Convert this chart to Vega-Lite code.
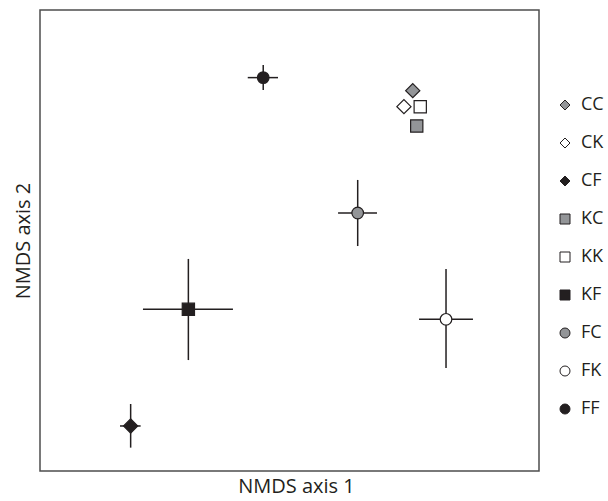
{
  "$schema": "https://vega.github.io/schema/vega-lite/v6.json",
  "width": 499,
  "height": 461,
  "autosize": "none",
  "padding": {"left": 40, "top": 10, "right": 69, "bottom": 30},
  "background": "white",
  "config": {
    "view": {"stroke": "#4d4d4d", "strokeWidth": 1.5},
    "font": "Open Sans",
    "legend": {
      "title": null, "padding": 0,
      "labelFont": "Open Sans", "labelFontSize": 18, "labelColor": "#231f20",
      "symbolSize": 100, "symbolStrokeColor": "#231f20", "symbolStrokeWidth": 1, "symbolOpacity": 1,
      "rowPadding": 20, "labelOffset": 7
    }
  },
  "data": {
    "values": [
      {"group": "CC", "x": 0.741, "y": 0.975, "xlo": null, "xhi": null, "ylo": null, "yhi": null},
      {"group": "CK", "x": 0.688, "y": 0.871, "xlo": null, "xhi": null, "ylo": null, "yhi": null},
      {"group": "CF", "x": -0.955, "y": -1.207, "xlo": -1.019, "xhi": -0.895, "ylo": -1.348, "yhi": -1.064},
      {"group": "KC", "x": 0.765, "y": 0.745, "xlo": null, "xhi": null, "ylo": null, "yhi": null},
      {"group": "KK", "x": 0.786, "y": 0.871, "xlo": null, "xhi": null, "ylo": null, "yhi": null},
      {"group": "KF", "x": -0.608, "y": -0.448, "xlo": -0.881, "xhi": -0.34, "ylo": -0.778, "yhi": -0.12},
      {"group": "FC", "x": 0.41, "y": 0.179, "xlo": 0.292, "xhi": 0.526, "ylo": -0.036, "yhi": 0.394},
      {"group": "FK", "x": 0.941, "y": -0.513, "xlo": 0.779, "xhi": 1.103, "ylo": -0.83, "yhi": -0.185},
      {"group": "FF", "x": -0.158, "y": 1.06, "xlo": -0.251, "xhi": -0.069, "ylo": 0.979, "yhi": 1.142}
    ]
  },
  "encoding": {
    "x": {
      "field": "x", "type": "quantitative",
      "scale": {"domain": [-1.5, 1.5], "nice": false, "zero": false},
      "axis": {"title": "NMDS axis 1", "labels": false, "ticks": false, "domain": false, "grid": false,
               "titleFont": "Open Sans", "titleFontSize": 20, "titleFontWeight": "normal", "titleColor": "#231f20", "titlePadding": 5, "titleX": 256}
    },
    "y": {
      "field": "y", "type": "quantitative",
      "scale": {"domain": [-1.5, 1.5], "nice": false, "zero": false},
      "axis": {"title": "NMDS axis 2", "labels": false, "ticks": false, "domain": false, "grid": false,
               "titleFont": "Open Sans", "titleFontSize": 20, "titleFontWeight": "normal", "titleColor": "#231f20", "titlePadding": 7}
    }
  },
  "layer": [
    {
      "transform": [{"filter": "datum.xlo != null"}],
      "mark": {"type": "rule", "color": "#231f20", "strokeWidth": 1.5},
      "encoding": {"x": {"field": "xlo", "type": "quantitative"}, "x2": {"field": "xhi"}}
    },
    {
      "transform": [{"filter": "datum.ylo != null"}],
      "mark": {"type": "rule", "color": "#231f20", "strokeWidth": 1.5},
      "encoding": {"y": {"field": "ylo", "type": "quantitative"}, "y2": {"field": "yhi"}}
    },
    {
      "transform": [{"filter": {"field": "group", "oneOf": ["CC", "CK", "CF"]}}],
      "mark": {"type": "point", "filled": true, "stroke": "#231f20", "strokeWidth": 1.2, "opacity": 1, "size": 200},
      "encoding": {
        "shape": {
          "field": "group", "type": "nominal",
          "scale": {"domain": ["CC", "CK", "CF", "KC", "KK", "KF", "FC", "FK", "FF"],
                    "range": ["diamond", "diamond", "diamond", "square", "square", "square", "circle", "circle", "circle"]},
          "legend": {"orient": "none", "legendX": 516, "legendY": 86,
                     "encode": {"symbols": {"update": {"stroke": {"value": "#231f20"}, "strokeWidth": {"value": 1}, "opacity": {"value": 1}}}}}
        },
        "fill": {
          "field": "group", "type": "nominal",
          "scale": {"domain": ["CC", "CK", "CF", "KC", "KK", "KF", "FC", "FK", "FF"],
                    "range": ["#939598", "#ffffff", "#231f20", "#939598", "#ffffff", "#231f20", "#939598", "#ffffff", "#231f20"]},
          "legend": {"orient": "none", "legendX": 516, "legendY": 86,
                     "encode": {"symbols": {"update": {"stroke": {"value": "#231f20"}, "strokeWidth": {"value": 1}, "opacity": {"value": 1}}}}}
        }
      }
    },
    {
      "transform": [{"filter": {"field": "group", "oneOf": ["KC", "KK", "KF"]}}],
      "mark": {"type": "point", "filled": true, "stroke": "#231f20", "strokeWidth": 1.2, "opacity": 1, "size": 150},
      "encoding": {
        "shape": {"field": "group", "type": "nominal"},
        "fill": {"field": "group", "type": "nominal"}
      }
    },
    {
      "transform": [{"filter": {"field": "group", "oneOf": ["FC", "FK", "FF"]}}],
      "mark": {"type": "point", "filled": true, "stroke": "#231f20", "strokeWidth": 1.2, "opacity": 1, "size": 135},
      "encoding": {
        "shape": {"field": "group", "type": "nominal"},
        "fill": {"field": "group", "type": "nominal"}
      }
    }
  ]
}
